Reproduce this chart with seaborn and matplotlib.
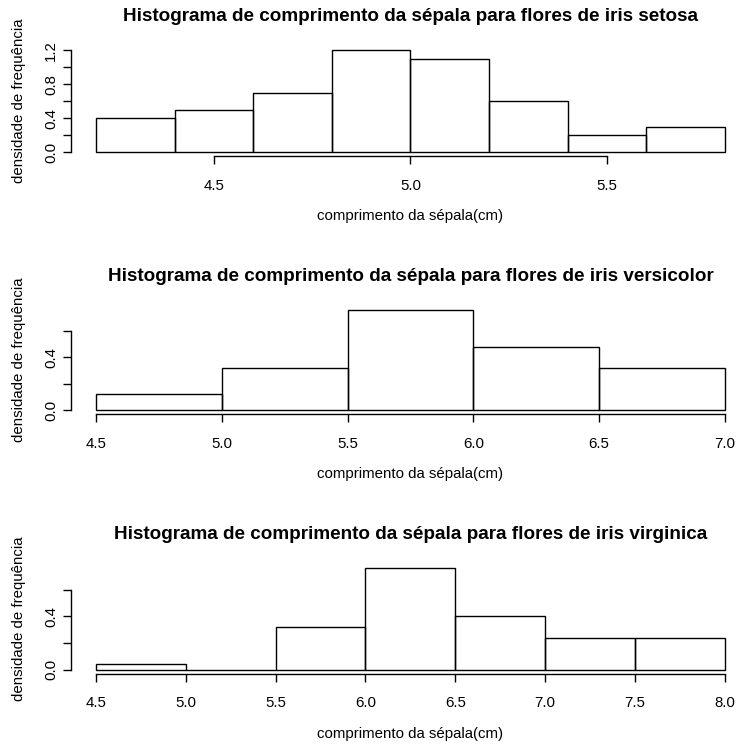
import matplotlib
matplotlib.use("Agg")
import matplotlib.pyplot as plt
import seaborn as sns
import numpy as np
import pandas as pd

sns.set_style("ticks")
plt.rcParams["font.family"] = ["Liberation Sans", "DejaVu Sans"]
plt.rcParams["text.color"] = "black"
plt.rcParams["axes.labelcolor"] = "black"
plt.rcParams["xtick.color"] = "black"
plt.rcParams["ytick.color"] = "black"

W, H, DPI = 736, 744, 100

# ---- data ----
species = ["setosa", "versicolor", "virginica"]
setosa_edges = [4.2, 4.4, 4.6, 4.8, 5.0, 5.2, 5.4, 5.6, 5.8]
setosa_density = [0.4, 0.5, 0.7, 1.2, 1.1, 0.6, 0.2, 0.3]
versicolor_edges = [4.5, 5.0, 5.5, 6.0, 6.5, 7.0]
versicolor_density = [0.12, 0.32, 0.76, 0.48, 0.32]
virginica_edges = [4.5, 5.0, 5.5, 6.0, 6.5, 7.0, 7.5, 8.0]
virginica_density = [0.04, 0.0, 0.32, 0.76, 0.40, 0.24, 0.24]

setosa_xticks = [4.5, 5.0, 5.5]
versicolor_xticks = [4.5, 5.0, 5.5, 6.0, 6.5, 7.0]
virginica_xticks = [4.5, 5.0, 5.5, 6.0, 6.5, 7.0, 7.5, 8.0]
setosa_yticks = [0.0, 0.2, 0.4, 0.6, 0.8, 1.0, 1.2]
setosa_ylabels = ["0.0", "", "0.4", "", "0.8", "", "1.2"]
other_yticks = [0.0, 0.2, 0.4, 0.6]
other_ylabels = ["0.0", "", "0.4", ""]

title_tpl = "Histograma de comprimento da sépala para flores de iris {}"
xlabel = "comprimento da sépala(cm)"
ylabel = "densidade de frequência"

panels = [
    (setosa_edges, setosa_density, setosa_xticks, setosa_yticks, setosa_ylabels),
    (versicolor_edges, versicolor_density, versicolor_xticks, other_yticks, other_ylabels),
    (virginica_edges, virginica_density, virginica_xticks, other_yticks, other_ylabels),
]

# axes boxes in pixels (top, bottom); x from left to right
boxes = [(46.4, 156.0), (305.9, 414.0), (564.2, 673.8)]
x_left, x_right = 70.8, 750.0

fig = plt.figure(figsize=(W / DPI, H / DPI), dpi=DPI)
fs = 10.8
for sp, (edges, dens, xt, yt, yl), (top, bot) in zip(species, panels, boxes):
    ax = fig.add_axes([x_left / W, 1 - bot / H, (x_right - x_left) / W, (bot - top) / H])
    e = np.asarray(edges, dtype=float)
    df = pd.DataFrame({"x": (e[:-1] + e[1:]) / 2, "w": dens})
    sns.histplot(data=df, x="x", weights="w", bins=list(edges), stat="count", fill=False,
                 color="black", linewidth=1.0, ax=ax)
    xr = edges[-1] - edges[0]
    ymax = max(dens)
    ax.set_xlim(edges[0] - 0.04 * xr, edges[-1] + 0.04 * xr)
    ax.set_ylim(-0.04 * ymax, ymax * 1.04)
    ax.set_xticks(xt)
    ax.set_xticklabels([f"{v:.1f}" for v in xt])
    ax.set_yticks(yt)
    ax.set_yticklabels(yl)
    for lab in ax.get_yticklabels():
        lab.set_rotation(90)
        lab.set_va("center")
    ax.spines["top"].set_visible(False)
    ax.spines["right"].set_visible(False)
    ax.spines["bottom"].set_bounds(xt[0], xt[-1])
    ax.spines["left"].set_bounds(yt[0], yt[-1])
    for s in ("bottom", "left"):
        ax.spines[s].set_linewidth(1.0)
        ax.spines[s].set_color("black")
    ax.tick_params(axis="x", direction="out", length=5.8, width=1.0, pad=10.5,
                   labelsize=fs, colors="black")
    ax.tick_params(axis="y", direction="out", length=5.8, width=1.0, pad=3.4,
                   labelsize=fs, colors="black")
    ax.set_xlabel("")
    ax.set_ylabel("")
    ax.set_title(title_tpl.format(sp), fontsize=13.6, fontweight="bold", pad=18,
                 color="black")
    cx = (x_left + x_right) / 2 / W
    fig.text(cx, 1 - (bot + 64) / H, xlabel, ha="center", va="baseline", fontsize=fs,
             color="black")
    fig.text(19 / W, 1 - (top + bot) / 2 / H, ylabel, ha="center", va="center",
             rotation=90, fontsize=fs, color="black")
    ax.set_facecolor("none")

fig.savefig("out.png", dpi=DPI, facecolor="white")
